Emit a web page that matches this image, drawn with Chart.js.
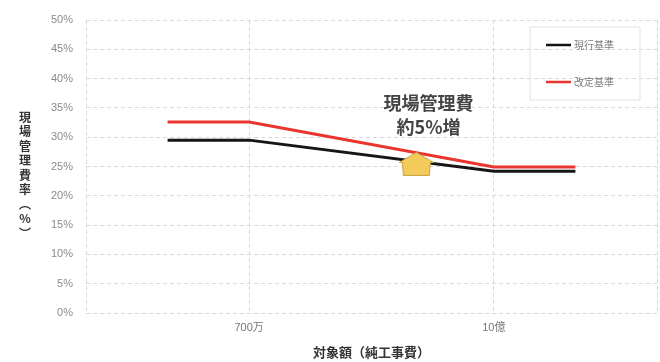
<!DOCTYPE html>
<html>
<head>
<meta charset="utf-8">
<script src="https://cdn.jsdelivr.net/npm/chart.js@4.4.1/dist/chart.umd.min.js"></script>
<style>
  html, body { margin: 0; padding: 0; background: #fff; }
</style>
</head>
<body>
<canvas id="chart" width="660" height="362"></canvas>
<script>
// data
const xPositions = [1, 2, 5, 6];
const currentRates = [29.5, 29.5, 24.2, 24.2];   // 現行基準
const revisedRates = [32.6, 32.6, 24.9, 24.9];   // 改定基準
const seriesNames = ['現行基準', '改定基準'];
const xTickValues = [0, 2, 5, 7];
const xTickLabels = ['', '700万', '10億', ''];
const yTickValues = [0, 5, 10, 15, 20, 25, 30, 35, 40, 45, 50];
const noteLines = ['現場管理費', '約5%増'];
const yTitleChars = ['現', '場', '管', '理', '費', '率', '︵', '%', '︶'];

const jpFont = "'Liberation Sans', 'Noto Sans CJK JP', sans-serif";

// arrow, note, legend and the stacked y title
const decorations = {
  id: 'decorations',
  afterDatasetsDraw(chart) {
    const { ctx, chartArea, scales: { x, y } } = chart;
    ctx.save();

    // yellow arrow under the note
    const ax = x.getPixelForValue(4.05);
    const ay = y.getPixelForValue(27.4);
    ctx.beginPath();
    ctx.moveTo(ax, ay);
    ctx.lineTo(ax + 17, ay + 10);
    ctx.lineTo(ax + 14, ay + 10);
    ctx.lineTo(ax + 13, ay + 23);
    ctx.lineTo(ax - 13, ay + 23);
    ctx.lineTo(ax - 14, ay + 10);
    ctx.lineTo(ax - 17, ay + 10);
    ctx.closePath();
    ctx.fillStyle = '#f3cb5a';
    ctx.fill();
    ctx.strokeStyle = '#c9a441';
    ctx.lineWidth = 1;
    ctx.stroke();

    // note text
    const nx = x.getPixelForValue(4.2);
    ctx.fillStyle = '#454545';
    ctx.font = "bold 18px 'Noto Sans CJK JP', sans-serif";
    ctx.textAlign = 'center';
    ctx.textBaseline = 'middle';
    ctx.fillText(noteLines[0], nx, y.getPixelForValue(35.8));
    ctx.fillText(noteLines[1], nx, y.getPixelForValue(31.7));

    // legend box
    const lx = chartArea.right - 127, ly = chartArea.top + 7;
    ctx.strokeStyle = '#e2e2e2';
    ctx.strokeRect(lx, ly, 110, 73);
    chart.data.datasets.forEach((ds, i) => {
      const rowY = ly + 18 + i * 37;
      ctx.strokeStyle = ds.borderColor;
      ctx.lineWidth = 2.5;
      ctx.beginPath();
      ctx.moveTo(lx + 16, rowY);
      ctx.lineTo(lx + 41, rowY);
      ctx.stroke();
      ctx.fillStyle = '#7a7a7a';
      ctx.font = "10px 'Noto Sans CJK JP', sans-serif";
      ctx.textAlign = 'left';
      ctx.fillText(ds.label, lx + 44, rowY);
    });

    // vertical y-axis title, one character per row
    ctx.fillStyle = '#333';
    ctx.font = "bold 12px 'Noto Sans CJK JP', sans-serif";
    ctx.textAlign = 'center';
    yTitleChars.forEach((ch, i) => {
      ctx.fillText(ch, 25, 117 + i * 14.5);
    });

    ctx.restore();
  }
};

const ctx = document.getElementById('chart').getContext('2d');

const chart = new Chart(ctx, {
  type: 'line',
  data: {
    datasets: [{
      label: seriesNames[0],
      data: xPositions.map((v, i) => ({ x: v, y: currentRates[i] })),
      borderColor: '#161616',
      borderWidth: 3,
      pointRadius: 0,
      tension: 0
    }, {
      label: seriesNames[1],
      data: xPositions.map((v, i) => ({ x: v, y: revisedRates[i] })),
      borderColor: '#e8352e',
      borderWidth: 3,
      pointRadius: 0,
      tension: 0
    }]
  },
  options: {
    responsive: false,
    animation: false,
    layout: {
      padding: { top: 20, right: 3, left: 0, bottom: 0 }
    },
    plugins: {
      legend: { display: false },
      tooltip: { enabled: false }
    },
    scales: {
      x: {
        type: 'linear',
        min: 0,
        max: 7,
        afterBuildTicks: (scale) => {
          scale.ticks = xTickValues.map(v => ({ value: v }));
        },
        afterFit: (scale) => {
          scale.height = 49;
          scale.paddingRight = 0;
          scale.paddingLeft = 0;
        },
        ticks: {
          autoSkip: false,
          maxRotation: 0,
          padding: 8,
          color: '#777',
          font: { family: jpFont, size: 11 },
          callback: (v) => xTickLabels[xTickValues.indexOf(v)]
        },
        grid: { color: '#d9d9d9', drawTicks: false },
        border: { display: false, dash: [4, 3] },
        title: {
          display: true,
          text: '対象額（純工事費）',
          color: '#333',
          font: { family: "'Noto Sans CJK JP', sans-serif", size: 13, weight: 'bold' },
          padding: { top: 0, bottom: 2 }
        }
      },
      y: {
        min: 0,
        max: 50,
        afterBuildTicks: (scale) => {
          scale.ticks = yTickValues.map(v => ({ value: v }));
        },
        afterFit: (scale) => { scale.width = 86; },
        ticks: {
          padding: 13,
          color: '#8a8a8a',
          font: { family: "'Liberation Sans', sans-serif", size: 11 },
          callback: (v) => v + '%'
        },
        grid: { color: '#d9d9d9', drawTicks: false },
        border: { display: false, dash: [4, 3] }
      }
    }
  },
  plugins: [decorations]
});
</script>
</body>
</html>
